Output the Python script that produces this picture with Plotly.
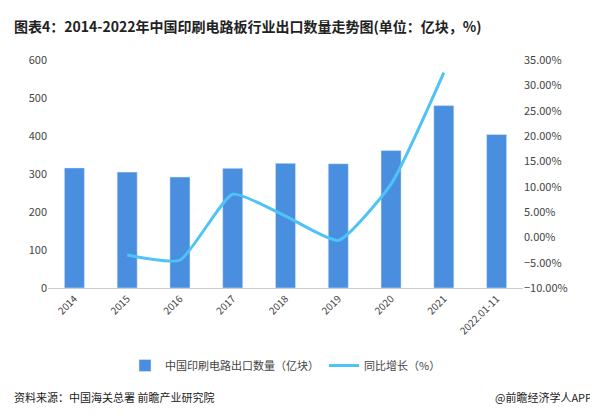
import plotly.graph_objects as go

years = ['2014', '2015', '2016', '2017', '2018', '2019', '2020', '2021', '2022.01-11']
export_qty = [316, 305, 292, 315, 328, 327, 362, 480, 404]
growth_years = ['2015', '2016', '2017', '2018', '2019', '2020', '2021']
growth = [-3.5, -4.5, 8.5, 4.2, -0.6, 10.5, 32.5]

fig = go.Figure()
fig.add_trace(go.Bar(x=years, y=export_qty, name='中国印刷电路出口数量（亿块）',
                     marker_color='#4a8ee0', width=0.38))
fig.add_trace(go.Scatter(x=growth_years, y=growth, name='同比增长（%）', yaxis='y2',
                         mode='lines', line=dict(color='#4fc3f7', width=3, shape='spline', smoothing=0.5)))

fig.update_layout(
    width=598, height=416,
    margin=dict(l=40, r=83, t=52, b=136),
    paper_bgcolor='white', plot_bgcolor='white',
    font=dict(family='Noto Sans CJK SC', size=11, color='#444'),
    title=dict(text='<b>图表4：2014-2022年中国印刷电路板行业出口数量走势图(单位：亿块，%)</b>',
               x=0.01, y=0.965, font=dict(size=14, color='#222')),
    xaxis=dict(tickangle=-45, showline=True, linecolor='#ccc', tickfont=dict(size=10)),
    yaxis=dict(range=[0, 600], dtick=100, showgrid=False, zeroline=False),
    yaxis2=dict(range=[-10, 35], dtick=5, overlaying='y', side='right', showgrid=False,
                zeroline=False, ticksuffix='.00%'),
    legend=dict(orientation='h', x=0.5, xanchor='center', y=-0.34, yanchor='middle', font=dict(size=11)),
    bargap=0.5,
)
fig.add_annotation(text='资料来源：中国海关总署 前瞻产业研究院', xref='paper', yref='paper',
                   x=-0.075, y=-0.48, xanchor='left', yanchor='middle', showarrow=False,
                   font=dict(size=11, color='#222'))
fig.add_annotation(text='@前瞻经济学人APP', xref='paper', yref='paper',
                   x=1.15, y=-0.48, xanchor='right', yanchor='middle', showarrow=False,
                   font=dict(size=11, color='#222'))
fig.write_html('out.html')
